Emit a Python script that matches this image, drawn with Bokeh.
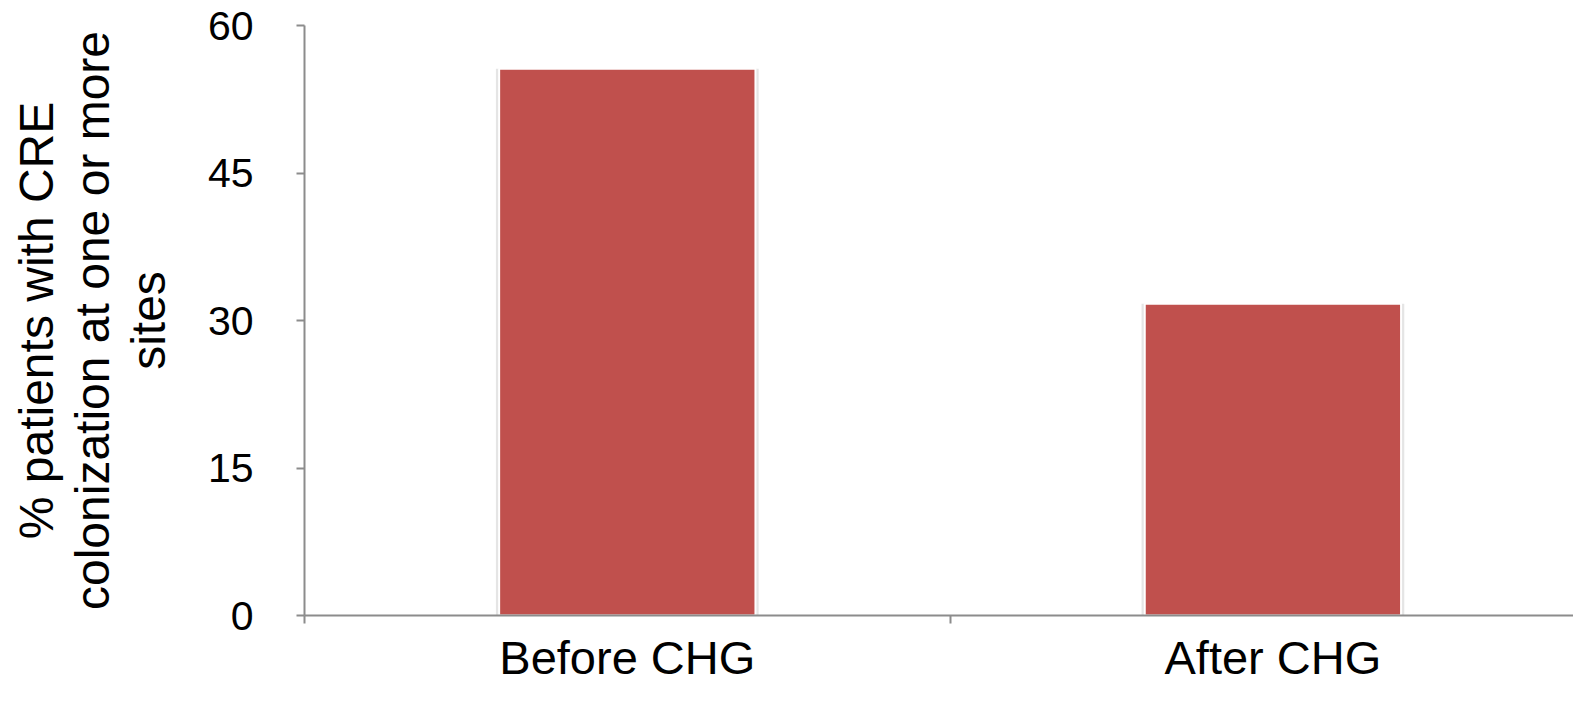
from bokeh.plotting import figure
from bokeh.models import FixedTicker, ColumnDataSource, Range1d
from bokeh.embed import file_html
from bokeh.resources import INLINE

categories = ["Before CHG", "After CHG"]
values = [55.6, 31.7]
y_ticks = [0, 15, 30, 45, 60]

xs = [i + 0.5 for i in range(len(categories))]
src = ColumnDataSource(dict(x=xs, top=values))

p = figure(width=1573, height=686, output_backend="svg", toolbar_location=None,
           x_range=Range1d(0, 1.9656), y_range=Range1d(0, 60),
           min_border_left=304, min_border_right=0, min_border_top=25, min_border_bottom=70)
p.outline_line_color = None
p.xgrid.visible = False
p.ygrid.visible = False
p.background_fill_color = "white"
p.border_fill_color = "white"

# soft shadow behind bars
p.vbar(x="x", top="top", width=0.407, source=src, fill_color="#000000", fill_alpha=0.10, line_color=None)
p.vbar(x="x", top="top", width=0.397, source=src, fill_color="#C0504D", line_color="white", line_width=2)

ax = p.xaxis[0]
ax.ticker = FixedTicker(ticks=xs, minor_ticks=list(range(len(categories) + 1)))
ax.major_label_overrides = {x: c for x, c in zip(xs, categories)}
ax.major_tick_line_color = None
ax.major_tick_out = 0
ax.major_tick_in = 0
ax.minor_tick_line_color = "#8c8c8c"
ax.minor_tick_line_width = 2
ax.minor_tick_out = 8
ax.minor_tick_in = 0
ax.axis_line_color = "#8c8c8c"
ax.axis_line_width = 2
ax.major_label_text_font = "Liberation Sans"
ax.major_label_text_font_size = "47px"
ax.major_label_text_color = "black"
ax.major_label_standoff = 7

ay = p.yaxis[0]
ay.ticker = FixedTicker(ticks=y_ticks)
ay.minor_tick_line_color = None
ay.major_tick_line_color = "#8c8c8c"
ay.major_tick_line_width = 2
ay.major_tick_out = 8
ay.major_tick_in = 0
ay.axis_line_color = "#8c8c8c"
ay.axis_line_width = 2
ay.major_label_text_font = "Liberation Sans"
ay.major_label_text_font_size = "41px"
ay.major_label_text_color = "black"
ay.major_label_standoff = 43
ay.axis_label = "% patients with CRE\ncolonization at one or more\nsites"
ay.axis_label_text_font = "Liberation Sans"
ay.axis_label_text_font_size = "48px"
ay.axis_label_text_font_style = "normal"
ay.axis_label_text_color = "black"
ay.axis_label_text_align = "center"
ay.axis_label_text_line_height = 1.06
ay.axis_label_standoff = 30

open("out.html", "w").write(file_html(p, INLINE))
